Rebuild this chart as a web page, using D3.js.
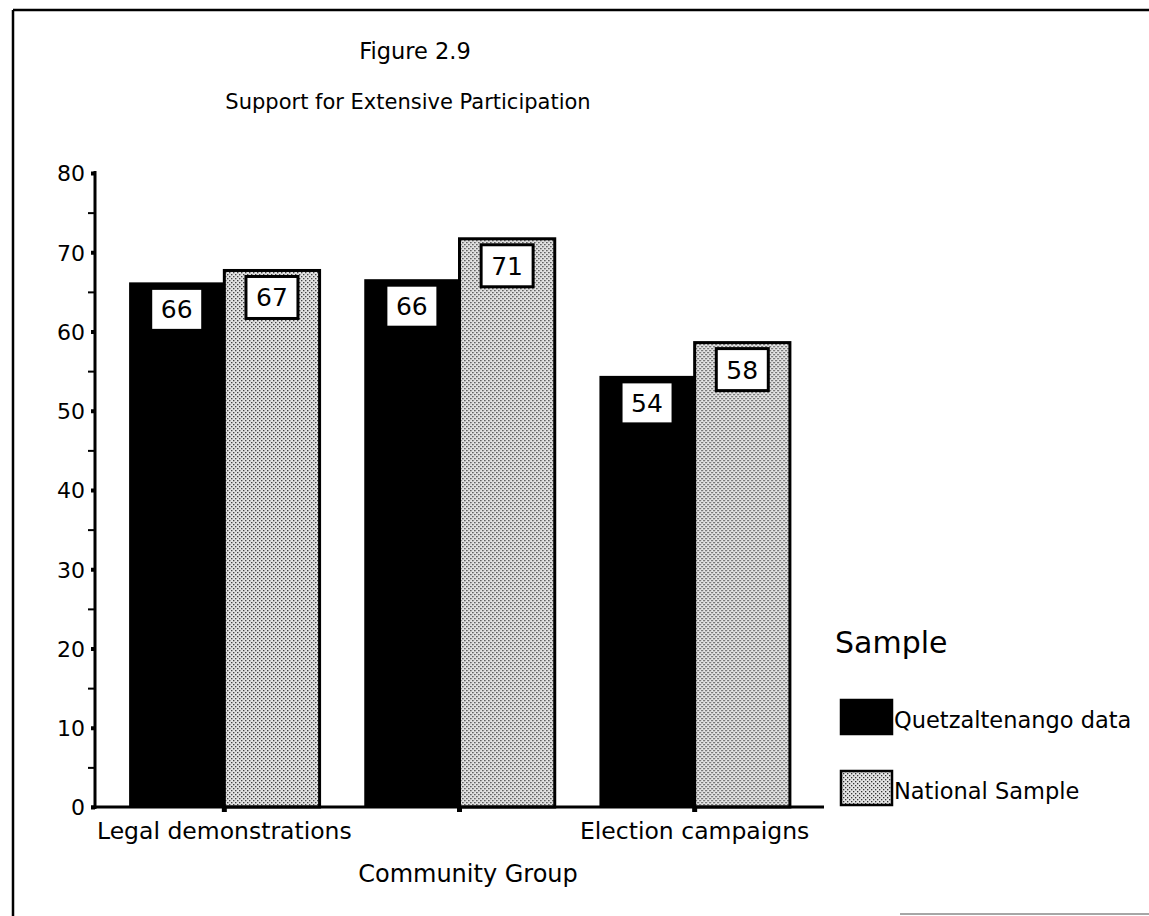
<!DOCTYPE html>
<html>
<head>
<meta charset="utf-8">
<script src="https://cdn.jsdelivr.net/npm/d3@7"></script>
<style>
  body { margin: 0; background: #fff; }
  text { font-family: "DejaVu Sans", "Liberation Sans", Arial, sans-serif; fill: #000; }
</style>
</head>
<body>
<div id="chart-area"></div>
<script>
// data
const categories = ["Legal demonstrations", "Middle group", "Election campaigns"]
const tickLabels = ["Legal demonstrations", "", "Election campaigns"]
const seriesNames = ["Quetzaltenango data", "National Sample"]
const quetzaltenango = [66.2, 66.6, 54.4]
const national = [67.7, 71.7, 58.6]
const valueLabels = [[66, 67], [66, 71], [54, 58]]
const yTicks = [0, 10, 20, 30, 40, 50, 60, 70, 80]
const yMinorTicks = [5, 15, 25, 35, 45, 55, 65, 75]

const W = 1149
const H = 916
const MARGIN = { LEFT: 95, TOP: 173, BOTTOM: 109 }
const PLOT_RIGHT = 824

const svg = d3.select("#chart-area").append("svg")
  .attr("width", W)
  .attr("height", H)

// stipple pattern for the national sample bars
const defs = svg.append("defs")
const pat = defs.append("pattern")
  .attr("id", "stipple")
  .attr("patternUnits", "userSpaceOnUse")
  .attr("width", 4)
  .attr("height", 4)
pat.append("rect").attr("width", 4).attr("height", 4).attr("fill", "#e4e4e4")
pat.append("rect").attr("x", 0).attr("y", 0).attr("width", 1.3).attr("height", 1.3).attr("fill", "#333")
pat.append("rect").attr("x", 2).attr("y", 2).attr("width", 1.3).attr("height", 1.3).attr("fill", "#333")

// page frame (scanned border)
svg.append("line").attr("x1", 13).attr("x2", W).attr("y1", 10).attr("y2", 10)
  .attr("stroke", "#000").attr("stroke-width", 2.5)
svg.append("line").attr("x1", 13).attr("x2", 13).attr("y1", 10).attr("y2", H)
  .attr("stroke", "#000").attr("stroke-width", 2.5)
svg.append("line").attr("x1", 900).attr("x2", W).attr("y1", 914).attr("y2", 914)
  .attr("stroke", "#888").attr("stroke-width", 1.5)

// titles
svg.append("text")
  .attr("x", 415).attr("y", 59)
  .attr("text-anchor", "middle")
  .attr("font-size", "22.5px")
  .text("Figure 2.9")
svg.append("text")
  .attr("x", 408).attr("y", 109)
  .attr("text-anchor", "middle")
  .attr("font-size", "21px")
  .text("Support for Extensive Participation")

// scales
const y = d3.scaleLinear().domain([0, 80]).range([807, MARGIN.TOP])
const x0 = d3.scaleBand()
  .domain(categories)
  .range([MARGIN.LEFT, PLOT_RIGHT])
  .paddingInner(0.19)
  .paddingOuter(0.145)
const x1 = d3.scaleBand()
  .domain(seriesNames)
  .range([0, x0.bandwidth()])

const data = categories.map((c, i) => ({
  cat: c,
  vals: [
    { key: seriesNames[0], v: quetzaltenango[i], label: valueLabels[i][0] },
    { key: seriesNames[1], v: national[i], label: valueLabels[i][1] }
  ]
}))

// bars
const groups = svg.append("g").selectAll("g")
  .data(data)
  .join("g")
  .attr("transform", d => `translate(${x0(d.cat)},0)`)

groups.selectAll("rect.bar")
  .data(d => d.vals)
  .join("rect")
  .attr("class", "bar")
  .attr("x", d => x1(d.key))
  .attr("y", d => y(d.v))
  .attr("width", x1.bandwidth())
  .attr("height", d => y(0) - y(d.v))
  .attr("fill", d => d.key === seriesNames[0] ? "#000" : "url(#stipple)")
  .attr("stroke", "#000")
  .attr("stroke-width", d => d.key === seriesNames[0] ? 0 : 3)

// value label boxes
const BOX_W = 52
const BOX_H = 42
groups.selectAll("rect.box")
  .data(d => d.vals)
  .join("rect")
  .attr("class", "box")
  .attr("x", d => x1(d.key) + x1.bandwidth() / 2 - BOX_W / 2)
  .attr("y", d => y(d.v) + 6)
  .attr("width", BOX_W)
  .attr("height", BOX_H)
  .attr("fill", "#fff")
  .attr("stroke", "#000")
  .attr("stroke-width", 3)

groups.selectAll("text.val")
  .data(d => d.vals)
  .join("text")
  .attr("class", "val")
  .attr("x", d => x1(d.key) + x1.bandwidth() / 2)
  .attr("y", d => y(d.v) + 6 + BOX_H / 2 + 9)
  .attr("text-anchor", "middle")
  .attr("font-size", "25px")
  .text(d => d.label)

// y axis
const yAxis = svg.append("g")
  .attr("transform", `translate(${MARGIN.LEFT},0)`)
  .call(d3.axisLeft(y).tickValues(yTicks).tickSize(4).tickPadding(6).tickFormat(d3.format("d")))
yAxis.attr("font-family", null)
yAxis.select(".domain").attr("stroke-width", 3).attr("d", `M0,${y(80) - 2}V${y(0) + 2}`)
yAxis.selectAll(".tick line").attr("stroke-width", 4)
yAxis.selectAll(".tick text").attr("font-size", "22px").attr("dy", "0.36em")

const yMinor = svg.append("g")
  .attr("transform", `translate(${MARGIN.LEFT},0)`)
  .call(d3.axisLeft(y).tickValues(yMinorTicks).tickSize(7).tickFormat(""))
yMinor.select(".domain").remove()
yMinor.selectAll(".tick line").attr("stroke-width", 2)

// x axis
const xAxis = svg.append("g")
  .attr("transform", `translate(0,${y(0)})`)
  .call(d3.axisBottom(x0).tickSize(5).tickPadding(10)
    .tickFormat((d, i) => tickLabels[i]))
xAxis.attr("font-family", null)
xAxis.select(".domain").attr("stroke-width", 3).attr("d", `M${MARGIN.LEFT - 4},0H${PLOT_RIGHT}`)
xAxis.selectAll(".tick line").attr("stroke-width", 5)
xAxis.selectAll(".tick text").attr("font-size", "23.5px")

svg.append("text")
  .attr("x", 468).attr("y", 882)
  .attr("text-anchor", "middle")
  .attr("font-size", "24px")
  .text("Community Group")

// legend
const legend = svg.append("g")
svg.append("text")
  .attr("x", 835).attr("y", 653)
  .attr("font-size", "30px")
  .text("Sample")

const item = legend.selectAll("g")
  .data(seriesNames)
  .join("g")
  .attr("transform", (d, i) => `translate(841,${700 + i * 71})`)
item.append("rect")
  .attr("width", 51)
  .attr("height", 34)
  .attr("fill", (d, i) => i === 0 ? "#000" : "url(#stipple)")
  .attr("stroke", "#000")
  .attr("stroke-width", 2.5)
item.append("text")
  .attr("x", 53)
  .attr("y", 28)
  .attr("font-size", "22.5px")
  .text(d => d)
</script>
</body>
</html>
